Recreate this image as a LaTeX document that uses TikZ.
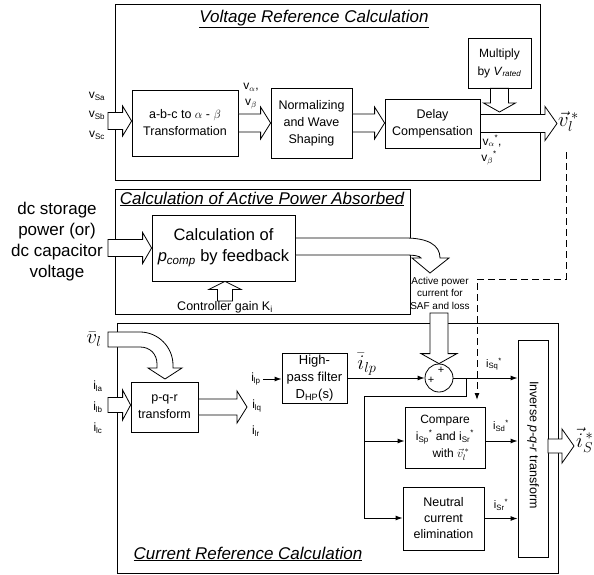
\documentclass[tikz,border=0pt]{standalone}
\usepackage{fontspec}
\setmainfont{Liberation Sans}
\usetikzlibrary{calc,arrows.meta}
\newcommand{\subsup}[2]{\textsubscript{#1}\textsuperscript{#2}}
\newcommand{\harr}[5]{\draw[hollow] let \p1=(#1), \p2=(#2) in (\x1,\y1+#3) -- (\x2-#5,\y1+#3) -- (\x2-#5,\y1+#4) -- (\x2,\y1) -- (\x2-#5,\y1-#4) -- (\x2-#5,\y1-#3) -- (\x1,\y1-#3) -- cycle;}
\newcommand{\varr}[5]{\draw[hollow] let \p1=(#1), \p2=(#2), \n1={sign(\y2-\y1)} in ({\x1+#3},{\y1}) -- ({\x1+#3},{\y2-\n1*#5}) -- ({\x1+#4},{\y2-\n1*#5}) -- ({\x1},{\y2}) -- ({\x1-#4},{\y2-\n1*#5}) -- ({\x1-#3},{\y2-\n1*#5}) -- ({\x1-#3},{\y1}) -- cycle;}
\begin{document}
\begin{tikzpicture}[x=1pt,y=-1pt,
  box/.style={draw,line width=0.8pt,inner sep=1pt,align=center,font=\fontsize{12.5}{17}\selectfont},
  sect/.style={draw,line width=1pt,inner sep=0pt},
  hollow/.style={draw,line width=0.8pt,fill=white,line join=miter},
  sig/.style={line width=1pt,-{Latex[length=7pt,width=5pt]}},
  wire/.style={line width=1pt},
  lbl/.style={inner sep=0pt,font=\fontsize{12}{13}\selectfont},
  slbl/.style={inner sep=0pt,font=\fontsize{11}{12}\selectfont},
  big/.style={inner sep=0pt,font=\fontsize{20}{22}\selectfont},
  ttl/.style={inner sep=0pt,font=\fontsize{17}{18}\selectfont\itshape},
]
\useasboundingbox (0,0) rectangle (594,575);
\fill[white] (0,0) rectangle (594,575);

% sections
\node[sect,minimum width=425,minimum height=175] (vsec) at (327.5,92.5) {};
\node[sect,minimum width=295,minimum height=125] (asec) at (262.5,251.5) {};
\node[sect,minimum width=441,minimum height=250] (csec) at (337.5,448) {};
\node[ttl] (vtitle) at (314,19) {\underline{Voltage Reference Calculation}};
\node[ttl] (atitle) at (262,199) {\underline{Calculation of Active Power Absorbed}};
\node[ttl] (ctitle) at (248,554) {\underline{Current Reference Calculation}};

% voltage reference blocks
\node[box,minimum width=106,minimum height=66] (abc) at (185,123) {a-b-c to $\alpha$ - $\beta$\\Transformation};
\node[box,minimum width=81,minimum height=70] (norm) at (311.5,123) {Normalizing\\and Wave\\Shaping};
\node[box,minimum width=95,minimum height=49] (delay) at (432.5,123.5) {Delay\\Compensation};
\node[box,minimum width=63,minimum height=50,font=\fontsize{12}{18}\selectfont] (mul) at (499.5,63) {Multiply\\by \textit{V}\textsubscript{\textit{rated}}};

\node[lbl] (vsa) at (97,96) {v\textsubscript{Sa}};
\node[lbl] (vsb) at (97,115) {v\textsubscript{Sb}};
\node[lbl] (vsc) at (97,135) {v\textsubscript{Sc}};
\node[lbl] (val) at (251,87) {v\textsubscript{$\alpha$},};
\node[lbl] (vbe) at (251,104) {v\textsubscript{$\beta$}};
\node[lbl] (vals) at (492,141) {v\subsup{$\alpha$}{*},};
\node[lbl] (vbes) at (489,158) {v\subsup{$\beta$}{*}};
\node[big,anchor=west] (vls) at (558,122) {$\vec{v}_l^{\,*}$};

\coordinate (vin) at (108,121);
\coordinate (vout) at (557,124);
\coordinate (mtip) at (499.5,112);
\harr{vin}{abc.west}{8.5pt}{15pt}{9pt}
\harr{abc.east}{norm.west}{9pt}{16pt}{10pt}
\harr{norm.east}{delay.west}{9pt}{16pt}{10pt}
\harr{delay.east}{vout}{9pt}{17pt}{12pt}
\varr{mul.south}{mtip}{9pt}{16pt}{9pt}

% active power section
\node[box,minimum width=143,minimum height=66,font=\fontsize{16.5}{21}\selectfont] (pc) at (223.5,248) {Calculation of\\\textit{p}\textsubscript{\textit{comp}} by feedback};
\node[inner sep=0pt,align=center,font=\fontsize{17}{21}\selectfont] (dc) at (57,242) {dc storage\\power (or)\\dc capacitor\\voltage};
\node[lbl,font=\fontsize{12.5}{13}\selectfont] (kg) at (225,307) {Controller gain K\textsubscript{i}};
\node[inner sep=0pt,align=center,font=\fontsize{10}{12.5}\selectfont] (saf) at (440,293) {Active power\\current for\\SAF and loss};
\coordinate (din) at (108,248);
\harr{din}{pc.west}{8.5pt}{15.5pt}{9pt}
\varr{kg.north}{pc.south}{7.5pt}{16pt}{8pt}
\draw[hollow] ($(pc.east)+(0,-10)$) -- (405,238) .. controls (428,238) and (440,245) .. (440,258) -- (449,258) -- (430,273) -- (412,258) -- (421,258) .. controls (420,256) and (414,255) .. (405,255) -- ($(pc.east)+(0,7)$) -- cycle;

% current reference section
\node[box,minimum width=67,minimum height=50] (pqr) at (164.5,407) {p-q-r\\transform};
\node[box,minimum width=65,minimum height=50,font=\fontsize{13}{17}\selectfont] (hpf) at (314.5,378) {High-\\pass filter\\D\textsubscript{HP}(s)};
\node[draw,circle,minimum size=28,inner sep=0pt,line width=0.8pt] (sum) at (439,378) {};
\node[inner sep=0pt,font=\fontsize{11}{11}\selectfont] (p1) at (441,370) {+};
\node[inner sep=0pt,font=\fontsize{11}{11}\selectfont] (p2) at (431,380) {+};
\node[box,minimum width=80,minimum height=61,font=\fontsize{12}{17}\selectfont] (cmp) at (445,437.5) {Compare\\i\subsup{Sp}{*} and i\subsup{Sr}{*}\\\hspace{12pt}with $\vec{v}_l^{\,*}$};
\node[box,minimum width=81,minimum height=63,font=\fontsize{12.5}{16}\selectfont] (neu) at (443.5,518.5) {Neutral\\current\\elimination};
\node[box,minimum width=30,minimum height=217] (inv) at (533,448.5) {};
\node[rotate=-90,inner sep=0pt,font=\fontsize{12.5}{14}\selectfont] (invt) at (533,445) {Inverse \textit{p-q-r} transform};

\node[big] (vl) at (94,339) {$\bar{v}_l$};
\node[lbl] (ila) at (98,386) {i\textsubscript{la}};
\node[lbl] (ilb) at (98,407) {i\textsubscript{lb}};
\node[lbl] (ilc) at (98,428) {i\textsubscript{lc}};
\node[lbl] (ilp) at (256,379) {i\textsubscript{lp}};
\node[lbl] (ilq) at (257,406) {i\textsubscript{lq}};
\node[lbl] (ilr) at (256,431) {i\textsubscript{lr}};
\node[big] (ilpbar) at (367,364) {$\bar{i}_{lp}$};
\node[slbl] (isq) at (494,364) {i\subsup{Sq}{*}};
\node[slbl] (isd) at (501,426) {i\subsup{Sd}{*}};
\node[slbl] (isr) at (501,505) {i\subsup{Sr}{*}};
\node[big,anchor=west] (iS) at (576,440) {$\vec{i}_S^{\,*}$};

% v_l curved hollow arrow
\draw[hollow] (108,332) -- (140,332) .. controls (158,332) and (173,347) .. (173,365) -- (173,368) -- (182,368) -- (165,379) -- (148,368) -- (157,368) -- (157,364) .. controls (157,354) and (150,347) .. (140,347) -- (108,347) -- cycle;

\coordinate (iin) at (108,405);
\coordinate (iout) at (247,406);
\harr{iin}{pqr.west}{7.5pt}{15pt}{8pt}
\harr{pqr.east}{iout}{8pt}{16pt}{10pt}
\coordinate (saftop) at (439,313);
\varr{saftop}{sum.north}{9pt}{18pt}{10pt}
\coordinate (isb) at (548,446);
\coordinate (isout) at (574,446);
\harr{isb}{isout}{7pt}{17pt}{12pt}

\draw[sig] (ilp.east) ++(2,0) -- (hpf.west |- ilp.east);
\draw[sig] (hpf.east) -- (sum.west);
\draw[sig] (sum.east) -- (inv.west |- sum.east);
\coordinate (j1) at (466,378);
\coordinate (j2) at (466,396);
\coordinate (j3) at (364,396);
\coordinate (jc) at (364,441);
\coordinate (j4) at (364,518);
\draw[wire] (j1) -- (j2) -- (j3) -- (j4);
\draw[sig] (jc) -- (cmp.west |- jc);
\draw[sig] (j4) -- (neu.west |- j4);
\draw[sig] (cmp.east |- jc) -- (inv.west |- jc);
\draw[sig] (neu.east) -- (inv.west |- neu.east);

% dashed reference path
\coordinate (d0) at (566,152);
\coordinate (d1) at (566,279);
\coordinate (d2) at (477,279);
\coordinate (d3) at (477,400);
\draw[line width=1pt,dash pattern=on 7pt off 4pt,-{Latex[length=7pt,width=5pt]}] (d0) -- (d1) -- (d2) -- (d3);
\end{tikzpicture}
\end{document}
